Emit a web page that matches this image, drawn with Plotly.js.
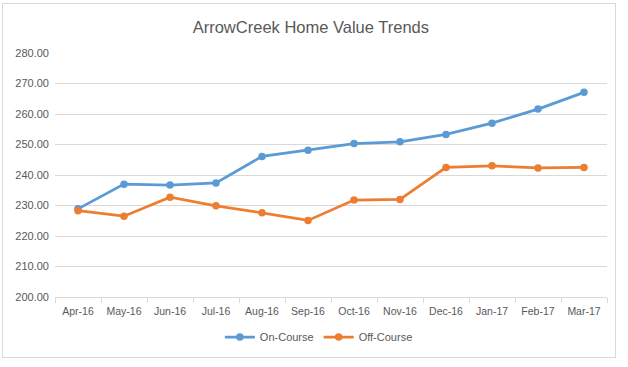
<!DOCTYPE html>
<html>
<head>
<meta charset="utf-8">
<script src="https://cdn.plot.ly/plotly-3.0.1.min.js"></script>
<style>
  html, body { margin: 0; padding: 0; background: #fff; }
  #frame { position: absolute; left: 2px; top: 3px; width: 612px; height: 353px; border: 1px solid #d9d9d9; }
  #chart { position: absolute; left: 0; top: 0; width: 628px; height: 367px; }
</style>
</head>
<body>
<div id="frame"></div>
<div id="chart"></div>
<script>
const months = ["Apr-16","May-16","Jun-16","Jul-16","Aug-16","Sep-16","Oct-16","Nov-16","Dec-16","Jan-17","Feb-17","Mar-17"];
const onCourse = [228.9, 237.0, 236.7, 237.4, 246.1, 248.1, 250.3, 250.9, 253.3, 257.0, 261.6, 267.1];
const offCourse = [228.3, 226.5, 232.7, 229.9, 227.6, 225.1, 231.8, 232.0, 242.5, 243.0, 242.3, 242.5];
const yTicks = [200, 210, 220, 230, 240, 250, 260, 270, 280];

const font = "Liberation Sans, Arial, sans-serif";
const traces = [
  { x: months, y: onCourse, name: "On-Course", type: "scatter", mode: "lines+markers",
    line: { color: "#5b9bd5", width: 2.75 }, marker: { color: "#5b9bd5", size: 7.5 } },
  { x: months, y: offCourse, name: "Off-Course", type: "scatter", mode: "lines+markers",
    line: { color: "#ed7d31", width: 2.75 }, marker: { color: "#ed7d31", size: 7.5 } }
];
const layout = {
  width: 628, height: 367,
  margin: { l: 55, r: 21, t: 53, b: 70, autoexpand: false },
  paper_bgcolor: "rgba(0,0,0,0)", plot_bgcolor: "rgba(0,0,0,0)",
  font: { family: font, size: 11, color: "#595959" },
  title: { text: "ArrowCreek Home Value Trends", font: { family: font, size: 16.5, color: "#595959" },
           x: 0.495, xanchor: "center", y: 1 - 27/367, yref: "container", yanchor: "middle" },
  xaxis: { type: "category", range: [-0.5, months.length - 0.5], tickson: "boundaries", ticks: "outside", ticklen: 5, tickcolor: "#d9d9d9",
           showline: true, linecolor: "#d9d9d9", linewidth: 1, showgrid: false, zeroline: false,
           tickangle: 0, ticklabelstandoff: 4, automargin: false,
           tickfont: { family: font, size: 10.5, color: "#595959" }, fixedrange: true },
  yaxis: { range: [200, 280], tickvals: yTicks, tickformat: ".2f", showgrid: true, gridcolor: "#d9d9d9",
           gridwidth: 1, zeroline: false, showline: false, ticks: "", ticklabelstandoff: 5, automargin: false,
           tickfont: { family: font, size: 11, color: "#595959" }, fixedrange: true },
  showlegend: true,
  legend: { orientation: "h", x: 0.478, xanchor: "center", y: -40/244, yanchor: "middle",
            font: { family: font, size: 11, color: "#595959" }, itemwidth: 30, tracegroupgap: 0 },
  hovermode: false
};
Plotly.newPlot("chart", traces, layout, { displayModeBar: false, staticPlot: true });
</script>
</body>
</html>
